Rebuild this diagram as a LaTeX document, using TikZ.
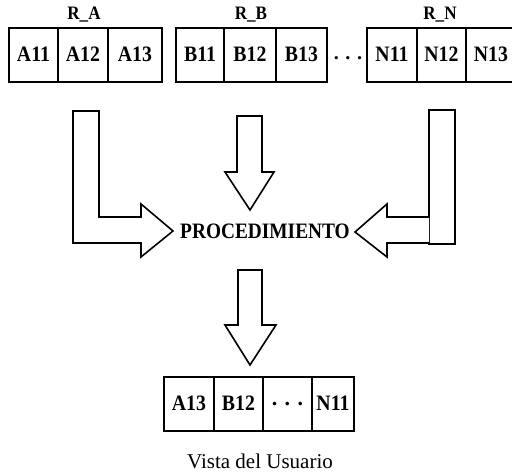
\documentclass[tikz,border=0pt]{standalone}
\usepackage{fontspec}
\setmainfont{Liberation Serif}
\newcommand{\sx}[1]{\scalebox{0.9}[1]{#1}}
\begin{document}
\begin{tikzpicture}[x=1pt,y=-1pt,
  cell/.style={draw,line width=1.6pt,minimum height=54pt,inner sep=0pt,text depth=1pt,font=\bfseries\fontsize{22}{22}\selectfont},
  lbl/.style={font=\bfseries\fontsize{19}{19}\selectfont,inner sep=0pt},
  blk/.style={draw,line width=1.6pt,line join=miter,fill=white}]
\useasboundingbox (0,0) rectangle (512,473);
\begin{scope}
\clip (0,0) rectangle (512,473);
% R_A
\node[cell,minimum width=49pt] (a1) at (33.5,55) {\sx{A11}};
\node[cell,minimum width=50pt] (a2) at (83,55) {\sx{A12}};
\node[cell,minimum width=54pt] (a3) at (135,55) {\sx{A13}};
% R_B
\node[cell,minimum width=48pt] (b1) at (200,55) {\sx{B11}};
\node[cell,minimum width=52pt] (b2) at (250,55) {\sx{B12}};
\node[cell,minimum width=51pt] (b3) at (301.5,55) {\sx{B13}};
% R_N
\node[cell,minimum width=50pt] (n1) at (392,55) {\sx{N11}};
\node[cell,minimum width=49pt] (n2) at (441.5,55) {\sx{N12}};
\node[cell,minimum width=50pt] (n3) at (491,55) {\sx{N13}};
\end{scope}
\node[font=\bfseries\fontsize{20}{20}\selectfont,inner sep=0pt] (dots) at (348,58) {.\,\,.\,\,.};
% labels
\node[lbl] (la) at (84,15) {\scalebox{0.9}[1]{R\_A}};
\node[lbl] (lb) at (251,15) {\scalebox{0.9}[1]{R\_B}};
\node[lbl] (ln) at (440,15) {\scalebox{0.9}[1]{R\_N}};
% arrows
\draw[blk] (73,111) -- (99,111) -- (99,217) -- (141,217) -- (141,204) -- (173,231)
  -- (141,257) -- (141,243) -- (73,243) -- cycle;
\draw[blk] (237,116) -- (262,116) -- (262,172) -- (274,172) -- (250,210) -- (225,172)
  -- (237,172) -- cycle;
\draw[blk] (429,110) rectangle (455,244);
\draw[blk] (429,217) -- (387,217) -- (387,204) -- (355,232) -- (387,257) -- (387,243) -- (429,243);
\draw[blk] (238,270) -- (262,270) -- (262,325) -- (276,325) -- (250,365) -- (225,325)
  -- (238,325) -- cycle;
\node[font=\bfseries\fontsize{22}{22}\selectfont,inner sep=0pt] (proc) at (265,231)
  {\scalebox{0.88}[1]{PROCEDIMIENTO}};
% result
\node[cell,minimum width=50pt] (c1) at (189,404) {\sx{A13}};
\node[cell,minimum width=49pt] (c2) at (238.5,404) {\sx{B12}};
\node[cell,minimum width=49pt] (c3) at (287.5,404) {.\,\,.\,\,.};
\node[cell,minimum width=42pt] (c4) at (333,404) {\sx{N11}};
\node[font=\fontsize{21}{21}\selectfont,inner sep=0pt] (vista) at (260,461) {Vista del Usuario};
\end{tikzpicture}
\end{document}
